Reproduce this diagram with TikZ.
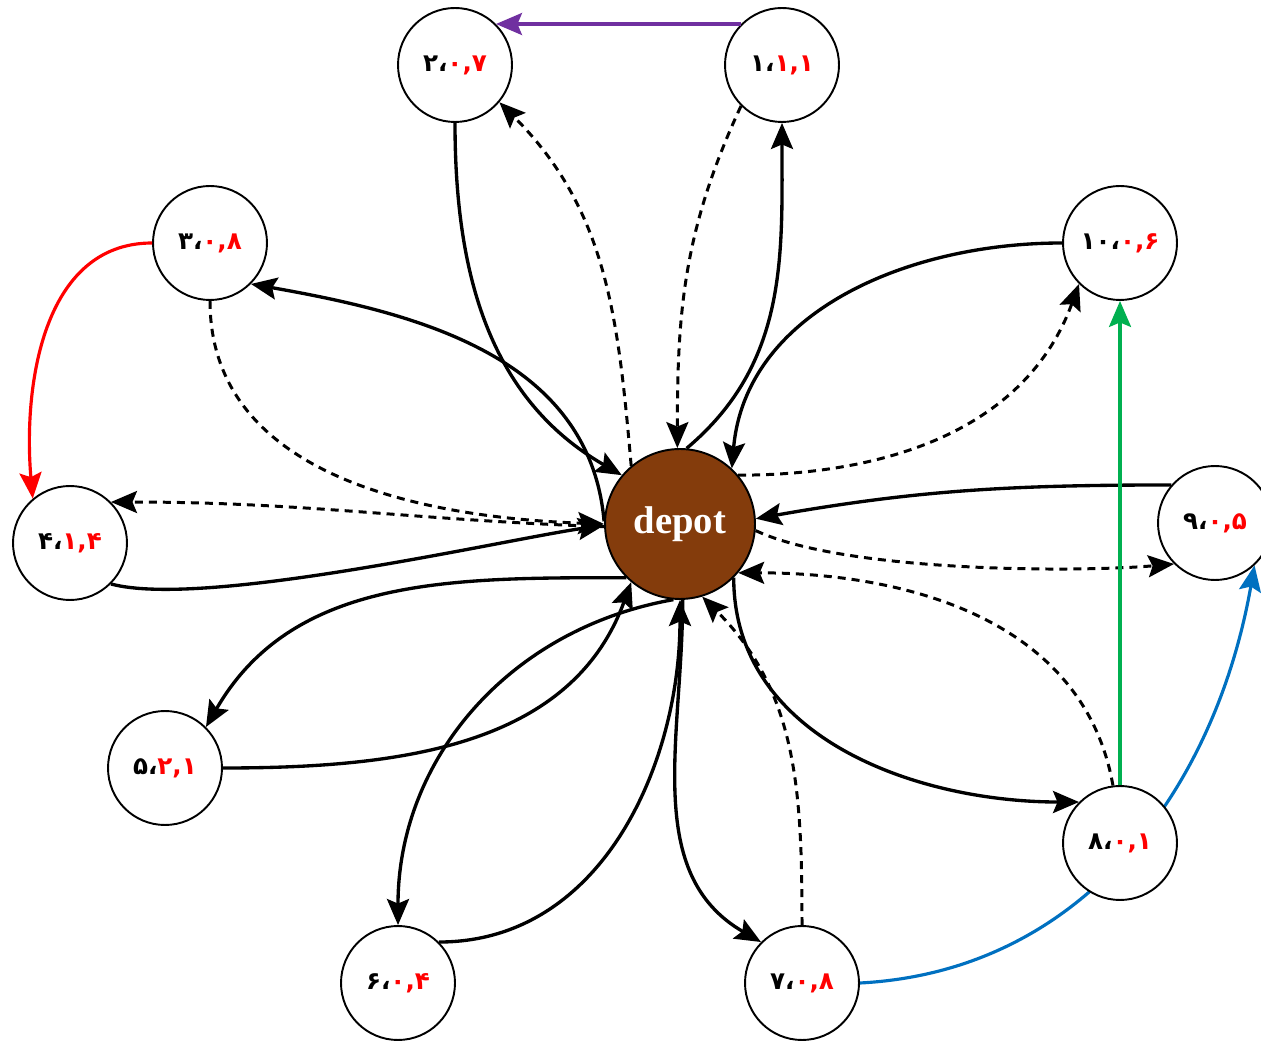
\documentclass[tikz,border=0pt]{standalone}
\usepackage{fontspec}
\setmainfont{Liberation Serif}
\newfontfamily\persian[Script=Arabic]{DejaVu Sans}
\usetikzlibrary{arrows.meta,backgrounds}

\definecolor{depotbrown}{HTML}{843C0C}
\definecolor{purplearc}{HTML}{7030A0}
\definecolor{greenarc}{HTML}{00B050}
\definecolor{bluearc}{HTML}{0070C0}

\newcommand{\clabel}[3]{{\persian\bfseries\fontsize{14}{16}\selectfont
	\hbox{#1}\hbox{،}\textcolor{red}{\hbox{#2}\hbox{,}\hbox{#3}}}}

\begin{document}
\begin{tikzpicture}[x=0.02cm,y=0.02cm,>={Stealth[length=0.52cm,width=0.44cm,inset=0.09cm]},
	city/.style={draw,circle,fill=white,line width=1.1pt,minimum size=2.28cm,inner sep=0pt},
	hub/.style={draw,circle,fill=depotbrown,line width=1.1pt,minimum size=3cm,inner sep=0pt,
		text=white,font=\bfseries\fontsize{22}{26}\selectfont},
	solidarc/.style={->,line width=1.9pt},
	dasharc/.style={->,line width=1.7pt,dash pattern=on 0.16cm off 0.12cm},
	colarc/.style={->,line width=1.8pt}]

\useasboundingbox (0,0) rectangle (1261,1042);

\node [hub] at (680,518) (depot) {depot};

\foreach \n/\x/\y/\a/\b/\c in {1/782/977/۱/۱/۱, 2/455/977/۲/۰/۷, 3/210/799/۳/۰/۸,
	4/70/499/۴/۱/۴, 5/165/274/۵/۲/۱, 6/398/59/۶/۰/۴, 7/802/59/۷/۰/۸,
	8/1120/199/۸/۰/۱, 9/1215/519/۹/۰/۵, 10/1120/799/۱۰/۰/۶} {
	\node [city] at (\x,\y) (c\n) {\clabel{\a}{\b}{\c}};
}

%%%%%%%%%%%%%%%%%%%%%%%%%%%%%%%%%%%%%%%%%%%%%%%%%%%%%%%%%%%%%%%%

\draw [solidarc] (c2.south) to [out=-90,in=150] (depot.140);
\draw [dasharc] (depot.130) to [out=95,in=-45] (c2.-40);
\draw [dasharc] (c1.-135) to [out=-115,in=90] (depot.92);
\draw [solidarc] (depot.85) to [out=40,in=-90] (c1.south);

\draw [solidarc] (depot.178) to [out=95,in=-10] (c3.-45);
\draw [dasharc] (c3.south) to [out=-90,in=178] (depot.180);
\draw [dasharc] (depot.182) to [out=178,in=0] (c4.45);
\draw [solidarc] (c4.-45) to [out=-15,in=188,looseness=0.5] (depot.181);

\draw [solidarc] (depot.-135) to [out=180,in=60] (c5.45);
\draw [solidarc] (c5.east) to [out=0,in=-110] (depot.-130);
\draw [solidarc] (depot.-95) to [out=190,in=90] (c6.north);
\draw [solidarc] (c6.45) to [out=0,in=-90] (depot.-90);
\draw [solidarc] (depot.-88) to [out=-90,in=150] (c7.135);
\draw [dasharc] (c7.north) to [out=90,in=-45] (depot.-73);

\draw [solidarc] (depot.-45) to [out=-90,in=180] (c8.135);
\draw [dasharc] (c8.97) to [out=100,in=0] (depot.-40);
\draw [solidarc] (c10.west) to [out=180,in=85] (depot.47);
\draw [dasharc] (depot.40) to [out=0,in=-110] (c10.-135);
\draw [solidarc] (c9.139) to [out=180,in=10] (depot.4);
\draw [dasharc] (depot.-5) to [out=-25,in=185,looseness=0.6] (c9.-135);

%%%%%%%%%%%%%%%%%%%%%%%%%%%%%%%%%%%%%%%%%%%%%%%%%%%%%%%%%%%%%%%%

\draw [colarc,red] (c3.west) to [out=180,in=95] (c4.130);
\draw [colarc,purplearc] (c1.135) -- (c2.45);
\draw [colarc,greenarc] (c8.north) -- (c10.south);

% runs behind c8
\begin{pgfonlayer}{background}
\draw [colarc,bluearc] (c7.east) to [out=3,in=-100] (c9.-47);
\end{pgfonlayer}

\end{tikzpicture}
\end{document}
